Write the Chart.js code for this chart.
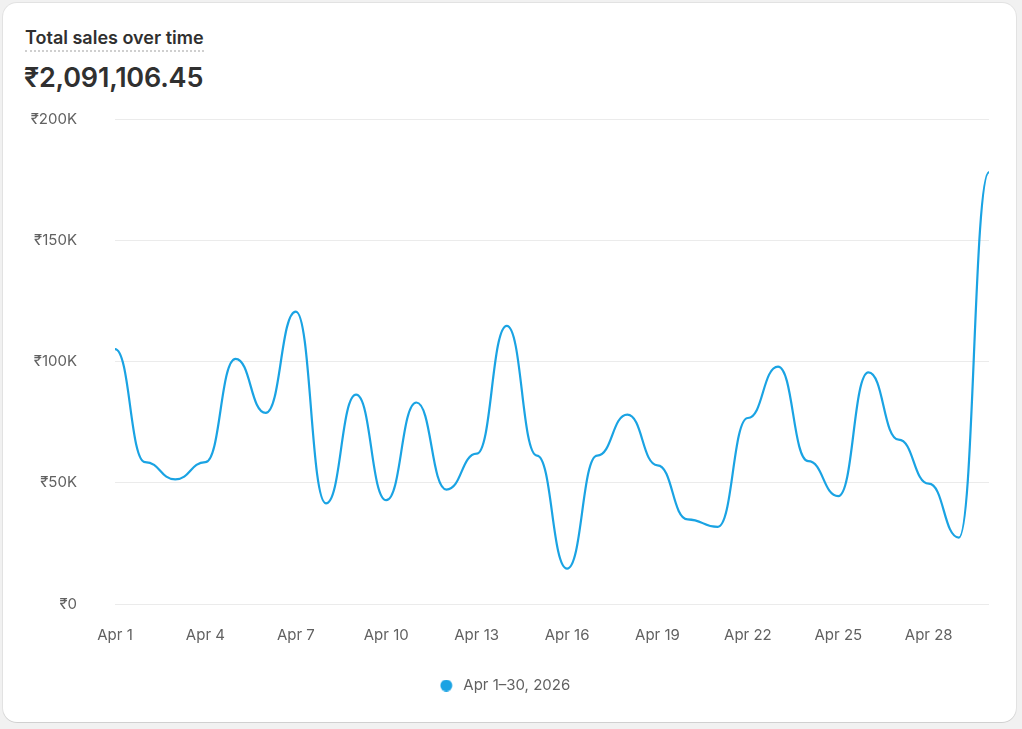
<!DOCTYPE html>
<html>
<head>
<meta charset="utf-8">
<script src="https://cdn.jsdelivr.net/npm/chart.js@4"></script>
<style>
  html, body { margin: 0; padding: 0; background: #f1f1f1; font-family: Inter, "Noto Sans", sans-serif; }
  .card {
    position: absolute; left: 3px; top: 3px; width: 1013px; height: 719px;
    background: #fff; border-radius: 14px;
    box-shadow: 0 1px 0 rgba(0,0,0,0.08), 0 0 0 1px rgba(0,0,0,0.06);
  }
  .title {
    position: absolute; left: 22px; top: 24px; line-height: 22px;
    font-size: 18px; font-weight: 600; color: #303030;
    padding-bottom: 1px; border-bottom: 2px dotted #cfcfcf;
  }
  .total {
    position: absolute; left: 21px; top: 58px;
    font-size: 27px; font-weight: 600; color: #303030; letter-spacing: -0.2px;
  }
  .chart-box { position: absolute; left: 17px; top: 69px; width: 983px; height: 641px; }
</style>
</head>
<body>
<div class="card">
  <div class="title">Total sales over time</div>
  <div class="total">₹2,091,106.45</div>
  <div class="chart-box"><canvas id="salesChart" width="983" height="641"></canvas></div>
</div>
<script>
// дни апреля
const days = ['Apr 1','Apr 2','Apr 3','Apr 4','Apr 5','Apr 6','Apr 7','Apr 8','Apr 9','Apr 10',
  'Apr 11','Apr 12','Apr 13','Apr 14','Apr 15','Apr 16','Apr 17','Apr 18','Apr 19','Apr 20',
  'Apr 21','Apr 22','Apr 23','Apr 24','Apr 25','Apr 26','Apr 27','Apr 28','Apr 29','Apr 30'];

// продажи за день, в рупиях
const sales = [105100, 58500, 51400, 58500, 101100, 78800, 120600, 41500, 86300, 42800,
  83100, 47200, 62000, 114700, 61200, 14600, 61200, 78100, 57200, 34900,
  31800, 76700, 97900, 58900, 44500, 95500, 67800, 49600, 27400, 178100];

const seriesLabel = 'Apr 1–30, 2026';
const yTicks = [0, 50000, 100000, 150000, 200000];
const lineColor = '#1aa3e3';

// кружок для легенды (смещён влево внутри картинки)
const dot = document.createElement('canvas');
dot.width = 24; dot.height = 12;
const dctx = dot.getContext('2d');
dctx.fillStyle = lineColor;
dctx.beginPath(); dctx.arc(6.5, 6, 6, 0, Math.PI * 2); dctx.fill();

// кривая как d3 curveBumpX: горизонтальные касательные в каждой точке
const bumpCurve = {
  id: 'bumpCurve',
  beforeDatasetDraw(chart, args) {
    const meta = args.meta;
    meta.dataset.updateControlPoints(chart.chartArea, meta.indexAxis);
    const pts = meta.data;
    for (let i = 0; i < pts.length; i++) {
      const p = pts[i], prev = pts[i - 1], next = pts[i + 1];
      p.cp1x = prev ? (prev.x + p.x) / 2 : p.x; p.cp1y = p.y;
      p.cp2x = next ? (p.x + next.x) / 2 : p.x; p.cp2y = p.y;
    }
    meta.dataset._path = undefined;
  }
};

const ctx = document.getElementById('salesChart').getContext('2d');
const myChart = new Chart(ctx, {
  type: 'line',
  data: {
    labels: days,
    datasets: [{
      label: seriesLabel,
      data: sales,
      borderColor: lineColor,
      backgroundColor: lineColor,
      borderWidth: 2.2,
      pointRadius: 0,
      tension: 0.4,
      fill: false
    }]
  },
  plugins: [bumpCurve],
  options: {
    responsive: false,
    animation: false,
    layout: { padding: { top: 21, right: 5, left: 0, bottom: 10 } },
    scales: {
      x: {
        grid: { display: false },
        border: { display: false },
        ticks: {
          autoSkip: false,
          maxRotation: 0,
          padding: 14,
          color: '#616161',
          font: { family: 'Inter', size: 15 },
          callback: function(v, i) { return i % 3 === 0 ? days[i] : ''; }
        }
      },
      y: {
        min: 0,
        max: 200000,
        afterFit: function(scale) { scale.width = 95; },
        afterBuildTicks: function(scale) { scale.ticks = yTicks.map(v => ({ value: v })); },
        grid: { color: '#ebebeb', drawTicks: false },
        border: { display: false },
        ticks: {
          padding: 38,
          color: '#616161',
          font: { family: 'Inter', size: 15 },
          callback: function(v) { return v === 0 ? '₹0' : '₹' + (v / 1000) + 'K'; }
        }
      }
    },
    plugins: {
      legend: {
        position: 'bottom',
        labels: {
          usePointStyle: true,
          pointStyle: dot,
          pointStyleWidth: 8,
          boxHeight: 9,
          padding: 20,
          color: '#616161',
          font: { family: 'Inter', size: 15 }
        }
      },
      tooltip: { enabled: false }
    }
  }
});
</script>
</body>
</html>
